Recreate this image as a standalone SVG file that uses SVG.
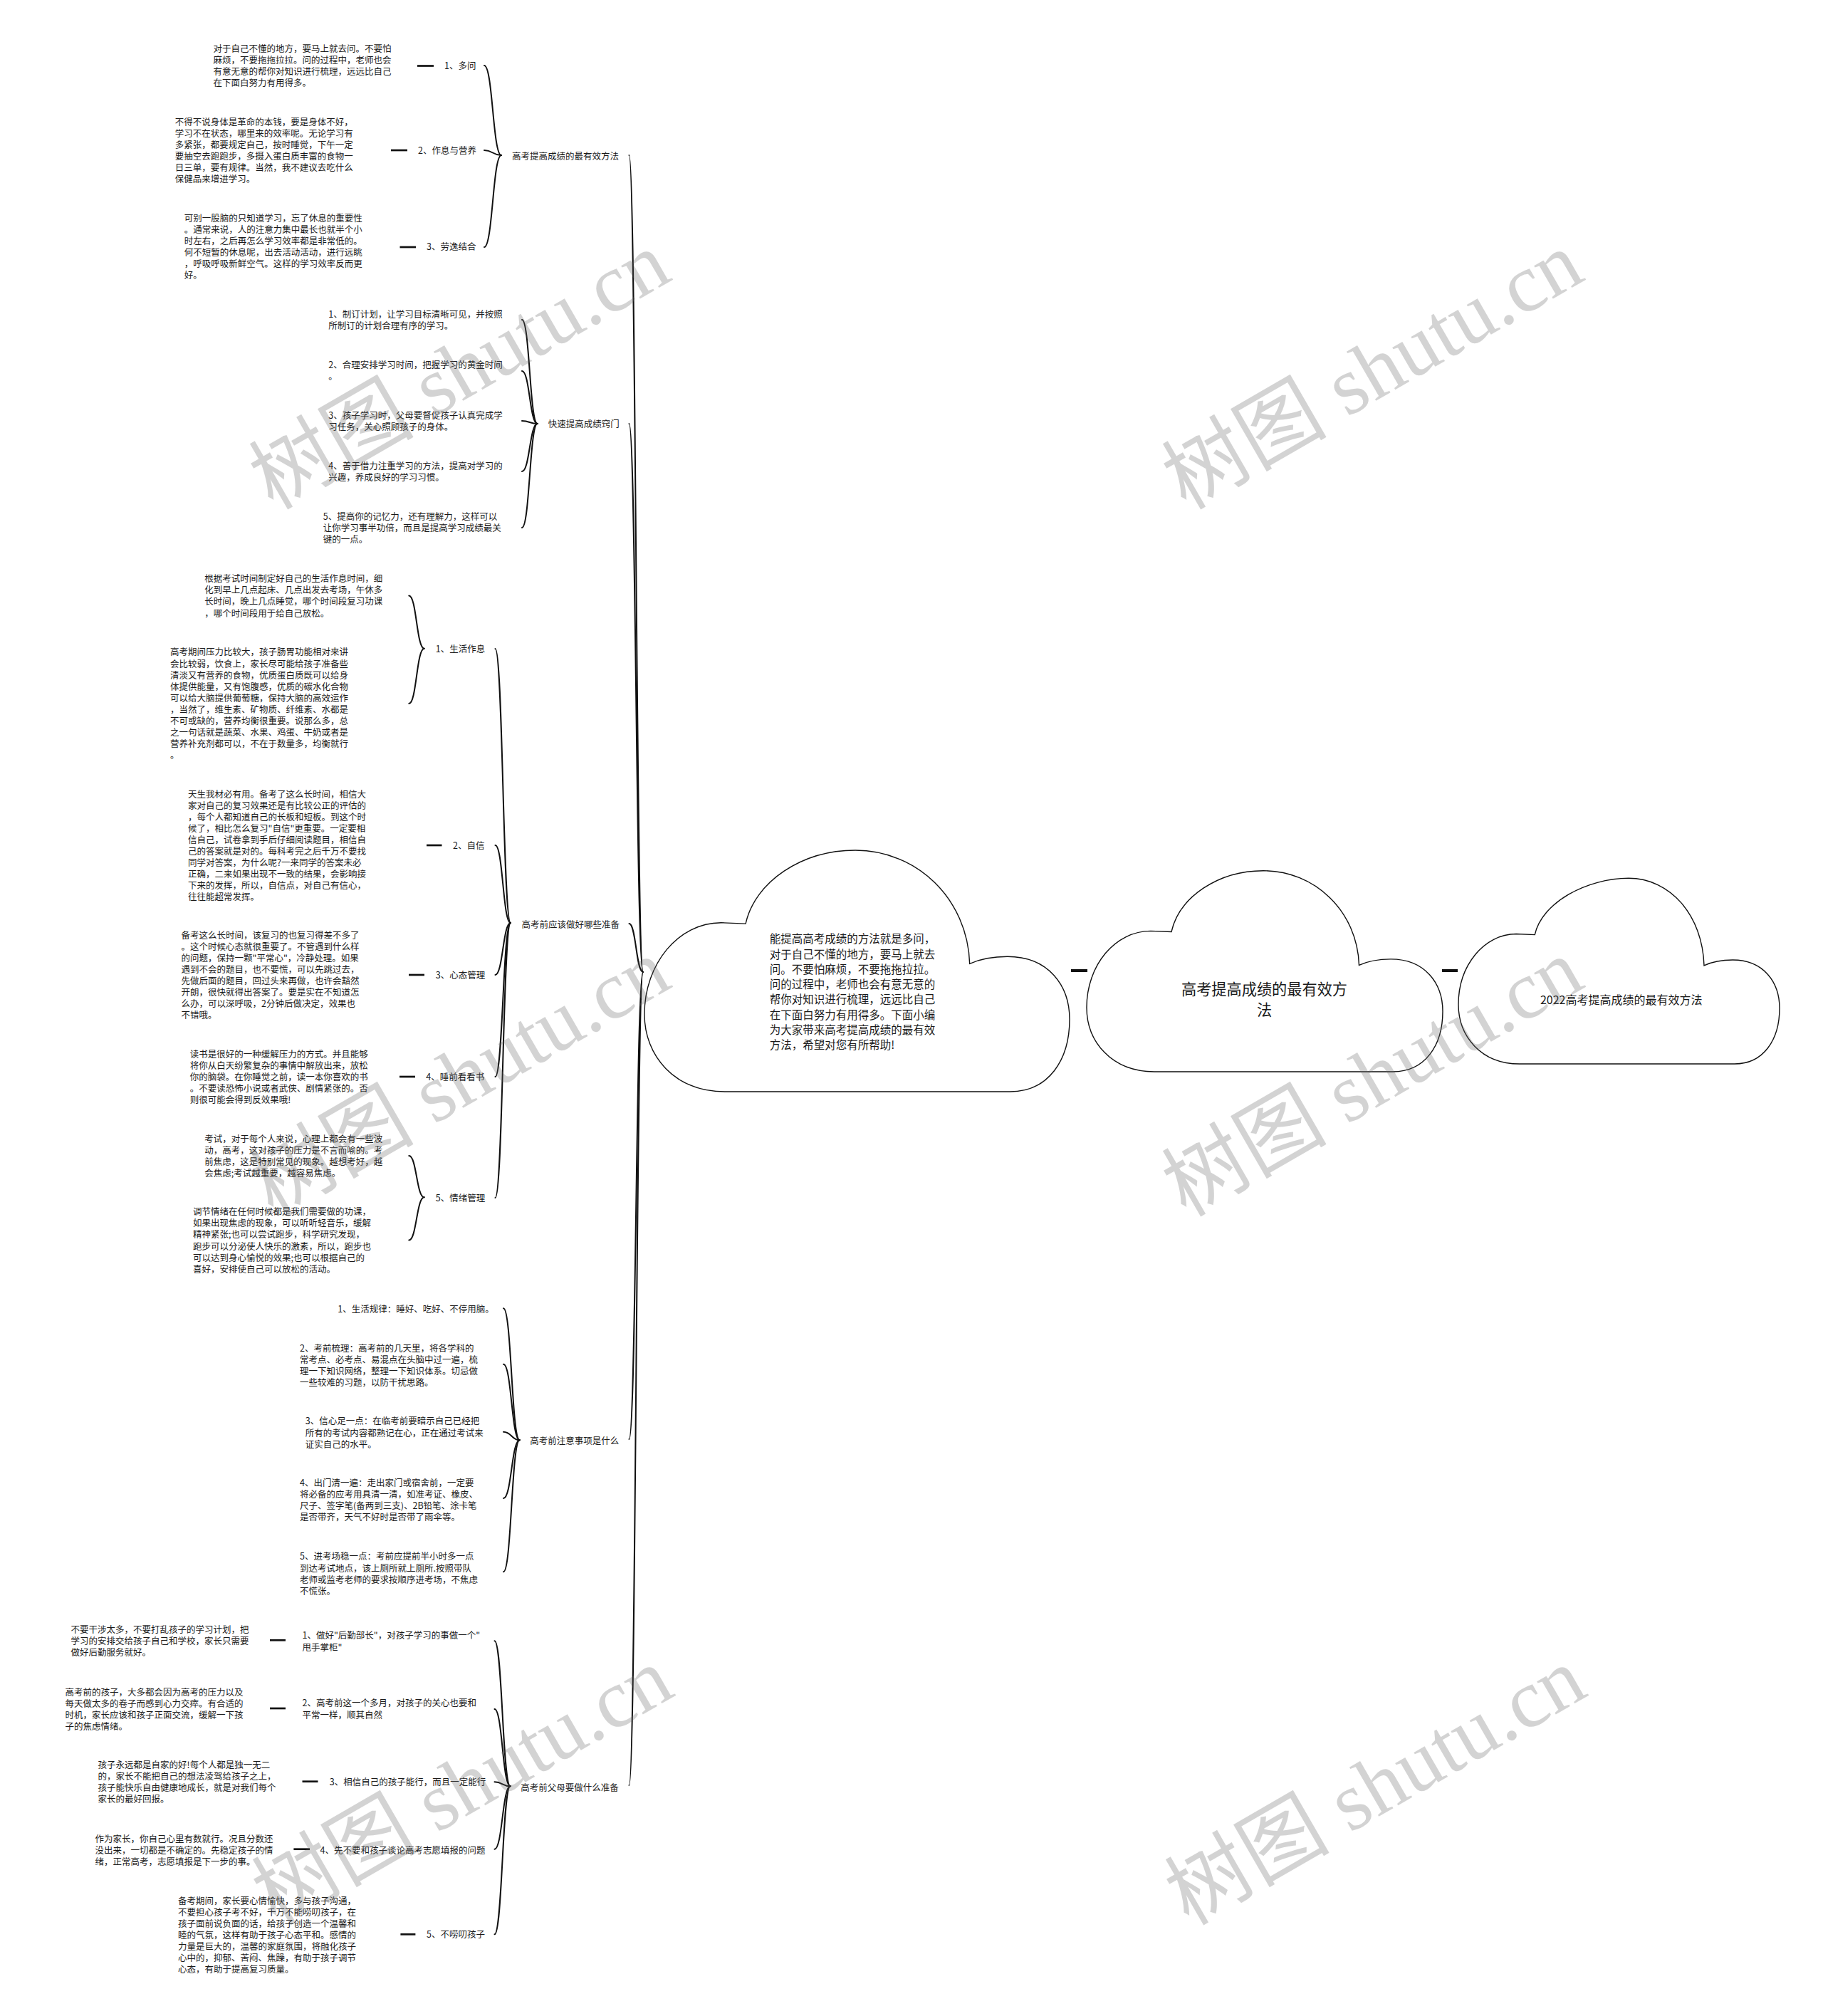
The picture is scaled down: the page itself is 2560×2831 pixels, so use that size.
<svg xmlns="http://www.w3.org/2000/svg" width="2560" height="2831" viewBox="0 0 2560 2831">
<style>
.t{font-family:"Noto Sans CJK SC","Noto Sans",sans-serif;font-size:12.5px;fill:#1a1a1a}
.c{fill:none;stroke:#111;stroke-width:2;stroke-linecap:round}
.d{stroke:#111;stroke-width:2.7}
.dd{stroke:#111;stroke-width:4}
.cloud{fill:#fff;stroke:#111;stroke-width:1.4}
.ct{font-family:"Noto Sans CJK SC","Noto Sans",sans-serif;fill:#1a1a1a}
.wm{font-family:"Liberation Serif","Noto Sans CJK SC",serif;font-size:116px;fill:#666;opacity:0.28}
</style>
<rect width="2560" height="2831" fill="#fff"/>

<g id="connectors">
<path class="c" d="M903 1365 C893.25 1365 893.25 218 883.5 218"/>
<path class="c" d="M903 1365 C893.25 1365 893.25 595 883.5 595"/>
<path class="c" d="M903 1365 C893.25 1365 893.25 1297 883.5 1297"/>
<path class="c" d="M903 1365 C893.25 1365 893.25 2021 883.5 2021"/>
<path class="c" d="M903 1365 C893.25 1365 893.25 2507 883.5 2507"/>
<path class="c" d="M704 218 C692 218 692 92 680 92"/>
<path class="c" d="M704 218 C692 218 692 211 680 211"/>
<path class="c" d="M704 218 C692 218 692 347 680 347"/>
<path class="c" d="M754.7 595 C743.85 595 743.85 449 733 449"/>
<path class="c" d="M754.7 595 C743.85 595 743.85 521 733 521"/>
<path class="c" d="M754.7 595 C743.85 595 743.85 591 733 591"/>
<path class="c" d="M754.7 595 C743.85 595 743.85 662 733 662"/>
<path class="c" d="M754.7 595 C743.85 595 743.85 741 733 741"/>
<path class="c" d="M717 1296 C706.25 1296 706.25 911 695.5 911"/>
<path class="c" d="M717 1296 C706.25 1296 706.25 1187 695.5 1187"/>
<path class="c" d="M717 1296 C706.25 1296 706.25 1369 695.5 1369"/>
<path class="c" d="M717 1296 C706.25 1296 706.25 1512 695.5 1512"/>
<path class="c" d="M717 1296 C706.25 1296 706.25 1682 695.5 1682"/>
<path class="c" d="M595.7 910.7 C585 910.7 585 836.5 574.3 836.5"/>
<path class="c" d="M595.7 910.7 C585 910.7 585 988 574.3 988"/>
<path class="c" d="M595.7 1681.3 C585 1681.3 585 1623 574.3 1623"/>
<path class="c" d="M595.7 1681.3 C585 1681.3 585 1741.5 574.3 1741.5"/>
<path class="c" d="M729.7 2022.3 C718.35 2022.3 718.35 1837.3 707 1837.3"/>
<path class="c" d="M729.7 2022.3 C718.35 2022.3 718.35 1915.7 707 1915.7"/>
<path class="c" d="M729.7 2022.3 C718.35 2022.3 718.35 2010.7 707 2010.7"/>
<path class="c" d="M729.7 2022.3 C718.35 2022.3 718.35 2104 707 2104"/>
<path class="c" d="M729.7 2022.3 C718.35 2022.3 718.35 2207.3 707 2207.3"/>
<path class="c" d="M716.6 2508.3 C705.55 2508.3 705.55 2304.3 694.5 2304.3"/>
<path class="c" d="M716.6 2508.3 C705.55 2508.3 705.55 2400 694.5 2400"/>
<path class="c" d="M716.6 2508.3 C705.55 2508.3 705.55 2502.3 694.5 2502.3"/>
<path class="c" d="M716.6 2508.3 C705.55 2508.3 705.55 2596.7 694.5 2596.7"/>
<path class="c" d="M716.6 2508.3 C705.55 2508.3 705.55 2716.3 694.5 2716.3"/>
<line class="d" x1="586" y1="92.5" x2="609" y2="92.5"/>
<line class="d" x1="549" y1="211" x2="572" y2="211"/>
<line class="d" x1="561.5" y1="347" x2="584" y2="347"/>
<line class="d" x1="599" y1="1187" x2="620.5" y2="1187"/>
<line class="d" x1="574" y1="1369" x2="596" y2="1369"/>
<line class="d" x1="561" y1="1512" x2="583" y2="1512"/>
<line class="d" x1="379" y1="2303.3" x2="401" y2="2303.3"/>
<line class="d" x1="379" y1="2399" x2="401" y2="2399"/>
<line class="d" x1="424.5" y1="2501.7" x2="446.5" y2="2501.7"/>
<line class="d" x1="412.4" y1="2596.7" x2="435" y2="2596.7"/>
<line class="d" x1="562.4" y1="2716.3" x2="583.4" y2="2716.3"/>
<line class="dd" x1="1504" y1="1363" x2="1527" y2="1363"/>
<line class="dd" x1="2025" y1="1363" x2="2047" y2="1363"/>
</g>

<g id="n-root">
<path class="cloud" d="M2133.7 1494 C2079.6 1494 2048 1454.9 2048 1410.6 C2048 1355.8 2084.1 1311.5 2129.2 1311.5 L2155.3 1312.6 C2165.3 1267.2 2228.4 1233.3 2287 1233.3 C2345.7 1233.3 2390.8 1285.4 2393 1355.8 C2404.3 1350.6 2417.8 1348 2433.2 1348 C2476.5 1348 2499 1379.3 2499 1415.8 C2499 1460.1 2476.5 1494 2435.9 1494 Z"/>
<text class="ct" x="2276.7" y="1410" font-size="16" text-anchor="middle">2022高考提高成绩的最有效方法</text>
</g>

<g id="n-title">
<path class="cloud" d="M1621 1505 C1561 1505 1526 1462.7 1526 1414.7 C1526 1355.4 1566 1307.4 1616 1307.4 L1645 1308.5 C1656 1259.4 1711 1222.7 1774 1222.7 C1846 1222.7 1906 1279.2 1908.5 1355.4 C1921 1349.7 1936 1346.9 1953 1346.9 C2001 1346.9 2026 1380.8 2026 1420.3 C2026 1468.3 2001 1505 1956 1505 Z"/>
<text class="ct" font-size="21.2" text-anchor="middle"><tspan x="1775.5" y="1397.3">高考提高成绩的最有效方</tspan><tspan x="1775.5" y="1426.3">法</tspan></text>
</g>

<g id="n-intro">
<path class="cloud" d="M1018.4 1533 C946.8 1533 905 1482.2 905 1424.5 C905 1353.3 952.8 1295.7 1012.5 1295.7 L1047.1 1297.1 C1060.2 1238.1 1125.9 1194 1201.1 1194 C1287.1 1194 1358.7 1261.8 1361.7 1353.3 C1376.6 1346.6 1394.5 1343.2 1414.8 1343.2 C1472.2 1343.2 1502 1383.8 1502 1431.3 C1502 1488.9 1472.2 1533 1418.4 1533 Z"/>
<text class="ct" font-size="15.5"><tspan x="1080.8" y="1324.2">能提高高考成绩的方法就是多问，</tspan><tspan x="1080.8" y="1345.5">对于自己不懂的地方，要马上就去</tspan><tspan x="1080.8" y="1366.8">问。不要怕麻烦，不要拖拖拉拉。</tspan><tspan x="1080.8" y="1388.1">问的过程中，老师也会有意无意的</tspan><tspan x="1080.8" y="1409.4">帮你对知识进行梳理，远远比自己</tspan><tspan x="1080.8" y="1430.7">在下面白努力有用得多。下面小编</tspan><tspan x="1080.8" y="1452">为大家带来高考提高成绩的最有效</tspan><tspan x="1080.8" y="1473.3">方法，希望对您有所帮助!</tspan></text>
</g>

<g id="n-b1"><text class="t" x="719" y="223.7">高考提高成绩的最有效方法</text></g>
<g id="n-b1-1"><text class="t" x="624" y="97.4">1、多问</text></g>
<g id="n-b1-1-t"><text class="t"><tspan x="299.6" y="73">对于自己不懂的地方，要马上就去问。不要怕</tspan><tspan x="299.6" y="89">麻烦，不要拖拖拉拉。问的过程中，老师也会</tspan><tspan x="299.6" y="105">有意无意的帮你对知识进行梳理，远远比自己</tspan><tspan x="299.6" y="121">在下面白努力有用得多。</tspan></text></g>
<g id="n-b1-2"><text class="t" x="587" y="215.7">2、作息与营养</text></g>
<g id="n-b1-2-t"><text class="t"><tspan x="245.8" y="176.4">不得不说身体是革命的本钱，要是身体不好，</tspan><tspan x="245.8" y="192.4">学习不在状态，哪里来的效率呢。无论学习有</tspan><tspan x="245.8" y="208.4">多紧张，都要规定自己，按时睡觉，下午一定</tspan><tspan x="245.8" y="224.4">要抽空去跑跑步，多摄入蛋白质丰富的食物一</tspan><tspan x="245.8" y="240.4">日三单，要有规律。当然，我不建议去吃什么</tspan><tspan x="245.8" y="256.4">保健品来增进学习。</tspan></text></g>
<g id="n-b1-3"><text class="t" x="599" y="351.4">3、劳逸结合</text></g>
<g id="n-b1-3-t"><text class="t"><tspan x="258.8" y="311.4">可别一股脑的只知道学习，忘了休息的重要性</tspan><tspan x="258.8" y="327.4">。通常来说，人的注意力集中最长也就半个小</tspan><tspan x="258.8" y="343.4">时左右，之后再怎么学习效率都是非常低的。</tspan><tspan x="258.8" y="359.4">何不短暂的休息呢，出去活动活动，进行远眺</tspan><tspan x="258.8" y="375.4">，呼吸呼吸新鲜空气。这样的学习效率反而更</tspan><tspan x="258.8" y="391.4">好。</tspan></text></g>

<g id="n-b2"><text class="t" x="769.7" y="599.7">快速提高成绩窍门</text></g>
<g id="n-b2-1"><text class="t"><tspan x="461.3" y="445.7">1、制订计划，让学习目标清晰可见，并按照</tspan><tspan x="461.3" y="461.9">所制订的计划合理有序的学习。</tspan></text></g>
<g id="n-b2-2"><text class="t"><tspan x="461.3" y="517">2、合理安排学习时间，把握学习的黄金时间</tspan><tspan x="461.3" y="533.2">。</tspan></text></g>
<g id="n-b2-3"><text class="t"><tspan x="461.3" y="588">3、孩子学习时，父母要督促孩子认真完成学</tspan><tspan x="461.3" y="604.2">习任务，关心照顾孩子的身体。</tspan></text></g>
<g id="n-b2-4"><text class="t"><tspan x="461.3" y="659">4、善于借力注重学习的方法，提高对学习的</tspan><tspan x="461.3" y="675.2">兴趣，养成良好的学习习惯。</tspan></text></g>
<g id="n-b2-5"><text class="t"><tspan x="453.7" y="729.7">5、提高你的记忆力，还有理解力，这样可以</tspan><tspan x="453.7" y="745.9">让你学习事半功倍，而且是提高学习成绩最关</tspan><tspan x="453.7" y="762.1">键的一点。</tspan></text></g>

<g id="n-b3"><text class="t" x="732.4" y="1302.7">高考前应该做好哪些准备</text></g>
<g id="n-b3-1"><text class="t" x="611.7" y="916">1、生活作息</text></g>
<g id="n-b3-1-a"><text class="t"><tspan x="287.3" y="817">根据考试时间制定好自己的生活作息时间，细</tspan><tspan x="287.3" y="833.2">化到早上几点起床、几点出发去考场，午休多</tspan><tspan x="287.3" y="849.4">长时间，晚上几点睡觉，哪个时间段复习功课</tspan><tspan x="287.3" y="865.6">，哪个时间段用于给自己放松。</tspan></text></g>
<g id="n-b3-1-b"><text class="t"><tspan x="239" y="920.4">高考期间压力比较大，孩子肠胃功能相对来讲</tspan><tspan x="239" y="936.5">会比较弱，饮食上，家长尽可能给孩子准备些</tspan><tspan x="239" y="952.6">清淡又有营养的食物，优质蛋白质既可以给身</tspan><tspan x="239" y="968.7">体提供能量，又有饱腹感，优质的碳水化合物</tspan><tspan x="239" y="984.8">可以给大脑提供葡萄糖，保持大脑的高效运作</tspan><tspan x="239" y="1000.9">，当然了，维生素、矿物质、纤维素、水都是</tspan><tspan x="239" y="1017">不可或缺的，营养均衡很重要。说那么多，总</tspan><tspan x="239" y="1033.1">之一句话就是蔬菜、水果、鸡蛋、牛奶或者是</tspan><tspan x="239" y="1049.2">营养补充剂都可以，不在于数量多，均衡就行</tspan><tspan x="239" y="1065.3">。</tspan></text></g>
<g id="n-b3-2"><text class="t" x="636" y="1191.7">2、自信</text></g>
<g id="n-b3-2-t"><text class="t"><tspan x="264" y="1120">天生我材必有用。备考了这么长时间，相信大</tspan><tspan x="264" y="1136">家对自己的复习效果还是有比较公正的评估的</tspan><tspan x="264" y="1152">，每个人都知道自己的长板和短板。到这个时</tspan><tspan x="264" y="1168">候了，相比怎么复习"自信"更重要。一定要相</tspan><tspan x="264" y="1184">信自己，试卷拿到手后仔细阅读题目，相信自</tspan><tspan x="264" y="1200">己的答案就是对的。每科考完之后千万不要找</tspan><tspan x="264" y="1216">同学对答案，为什么呢?一来同学的答案未必</tspan><tspan x="264" y="1232">正确，二来如果出现不一致的结果，会影响接</tspan><tspan x="264" y="1248">下来的发挥，所以，自信点，对自己有信心，</tspan><tspan x="264" y="1264">往往能超常发挥。</tspan></text></g>
<g id="n-b3-3"><text class="t" x="611.8" y="1373.7">3、心态管理</text></g>
<g id="n-b3-3-t"><text class="t"><tspan x="254.5" y="1317.7">备考这么长时间，该复习的也复习得差不多了</tspan><tspan x="254.5" y="1333.8">。这个时候心态就很重要了。不管遇到什么样</tspan><tspan x="254.5" y="1349.9">的问题，保持一颗"平常心"，冷静处理。如果</tspan><tspan x="254.5" y="1366">遇到不会的题目，也不要慌，可以先跳过去，</tspan><tspan x="254.5" y="1382.1">先做后面的题目，回过头来再做，也许会豁然</tspan><tspan x="254.5" y="1398.2">开朗，很快就得出答案了。要是实在不知道怎</tspan><tspan x="254.5" y="1414.3">么办，可以深呼吸，2分钟后做决定，效果也</tspan><tspan x="254.5" y="1430.4">不错哦。</tspan></text></g>
<g id="n-b3-4"><text class="t" x="598.3" y="1517">4、睡前看看书</text></g>
<g id="n-b3-4-t"><text class="t"><tspan x="266.7" y="1484.7">读书是很好的一种缓解压力的方式。并且能够</tspan><tspan x="266.7" y="1500.7">将你从白天纷繁复杂的事情中解放出来，放松</tspan><tspan x="266.7" y="1516.7">你的脑袋。在你睡觉之前，读一本你喜欢的书</tspan><tspan x="266.7" y="1532.7">。不要读恐怖小说或者武侠、剧情紧张的。否</tspan><tspan x="266.7" y="1548.7">则很可能会得到反效果哦!</tspan></text></g>
<g id="n-b3-5"><text class="t" x="611.7" y="1687">5、情绪管理</text></g>
<g id="n-b3-5-a"><text class="t"><tspan x="287.3" y="1603.7">考试，对于每个人来说，心理上都会有一些波</tspan><tspan x="287.3" y="1619.8">动，高考，这对孩子的压力是不言而喻的。考</tspan><tspan x="287.3" y="1635.9">前焦虑，这是特别常见的现象。越想考好，越</tspan><tspan x="287.3" y="1652">会焦虑;考试越重要，越容易焦虑。</tspan></text></g>
<g id="n-b3-5-b"><text class="t"><tspan x="271" y="1706">调节情绪在任何时候都是我们需要做的功课，</tspan><tspan x="271" y="1722.2">如果出现焦虑的现象，可以听听轻音乐，缓解</tspan><tspan x="271" y="1738.4">精神紧张;也可以尝试跑步，科学研究发现，</tspan><tspan x="271" y="1754.6">跑步可以分泌使人快乐的激素，所以，跑步也</tspan><tspan x="271" y="1770.8">可以达到身心愉悦的效果;也可以根据自己的</tspan><tspan x="271" y="1787">喜好，安排使自己可以放松的活动。</tspan></text></g>

<g id="n-b4"><text class="t" x="744.3" y="2028">高考前注意事项是什么</text></g>
<g id="n-b4-1"><text class="t" x="474.3" y="1842.7">1、生活规律：睡好、吃好、不停用脑。</text></g>
<g id="n-b4-2"><text class="t"><tspan x="421" y="1897.7">2、考前梳理：高考前的几天里，将各学科的</tspan><tspan x="421" y="1913.8">常考点、必考点、易混点在头脑中过一遍，梳</tspan><tspan x="421" y="1929.9">理一下知识网络，整理一下知识体系。切忌做</tspan><tspan x="421" y="1946">一些较难的习题，以防干扰思路。</tspan></text></g>
<g id="n-b4-3"><text class="t"><tspan x="428.7" y="2000.4">3、信心足一点：在临考前要暗示自己已经把</tspan><tspan x="428.7" y="2016.5">所有的考试内容都熟记在心，正在通过考试来</tspan><tspan x="428.7" y="2032.6">证实自己的水平。</tspan></text></g>
<g id="n-b4-4"><text class="t"><tspan x="421" y="2087">4、出门清一遍：走出家门或宿舍前，一定要</tspan><tspan x="421" y="2103.1">将必备的应考用具清一清，如准考证、橡皮、</tspan><tspan x="421" y="2119.2">尺子、签字笔(备两到三支)、2B铅笔、涂卡笔</tspan><tspan x="421" y="2135.3">是否带齐，天气不好时是否带了雨伞等。</tspan></text></g>
<g id="n-b4-5"><text class="t"><tspan x="421" y="2190.4">5、进考场稳一点：考前应提前半小时多一点</tspan><tspan x="421" y="2206.5">到达考试地点，该上厕所就上厕所.按照带队</tspan><tspan x="421" y="2222.6">老师或监考老师的要求按顺序进考场，不焦虑</tspan><tspan x="421" y="2238.7">不慌张。</tspan></text></g>

<g id="n-b5"><text class="t" x="731.2" y="2515.4">高考前父母要做什么准备</text></g>
<g id="n-b5-1"><text class="t"><tspan x="424.5" y="2301.4">1、做好"后勤部长"，对孩子学习的事做一个"</tspan><tspan x="424.5" y="2317.5">甩手掌柜"</tspan></text></g>
<g id="n-b5-1-t"><text class="t"><tspan x="99.4" y="2293">不要干涉太多，不要打乱孩子的学习计划，把</tspan><tspan x="99.4" y="2309.1">学习的安排交给孩子自己和学校，家长只需要</tspan><tspan x="99.4" y="2325.2">做好后勤服务就好。</tspan></text></g>
<g id="n-b5-2"><text class="t"><tspan x="424.5" y="2396.4">2、高考前这一个多月，对孩子的关心也要和</tspan><tspan x="424.5" y="2412.5">平常一样，顺其自然</tspan></text></g>
<g id="n-b5-2-t"><text class="t"><tspan x="91.5" y="2380.7">高考前的孩子，大多都会因为高考的压力以及</tspan><tspan x="91.5" y="2396.8">每天做太多的卷子而感到心力交瘁。有合适的</tspan><tspan x="91.5" y="2412.9">时机，家长应该和孩子正面交流，缓解一下孩</tspan><tspan x="91.5" y="2429">子的焦虑情绪。</tspan></text></g>
<g id="n-b5-3"><text class="t" x="462.7" y="2507.4">3、相信自己的孩子能行，而且一定能行</text></g>
<g id="n-b5-3-t"><text class="t"><tspan x="137.6" y="2483">孩子永远都是自家的好!每个人都是独一无二</tspan><tspan x="137.6" y="2499.1">的，家长不能把自己的想法凌驾给孩子之上，</tspan><tspan x="137.6" y="2515.2">孩子能快乐自由健康地成长，就是对我们每个</tspan><tspan x="137.6" y="2531.3">家长的最好回报。</tspan></text></g>
<g id="n-b5-4"><text class="t" x="449.6" y="2602.7">4、先不要和孩子谈论高考志愿填报的问题</text></g>
<g id="n-b5-4-t"><text class="t"><tspan x="133.4" y="2587">作为家长，你自己心里有数就行。况且分数还</tspan><tspan x="133.4" y="2603.1">没出来，一切都是不确定的。先稳定孩子的情</tspan><tspan x="133.4" y="2619.2">绪，正常高考，志愿填报是下一步的事。</tspan></text></g>
<g id="n-b5-5"><text class="t" x="599" y="2721.4">5、不唠叨孩子</text></g>
<g id="n-b5-5-t"><text class="t"><tspan x="249.9" y="2673.7">备考期间，家长要心情愉快，多与孩子沟通，</tspan><tspan x="249.9" y="2689.7">不要担心孩子考不好，千万不能唠叨孩子，在</tspan><tspan x="249.9" y="2705.7">孩子面前说负面的话，给孩子创造一个温馨和</tspan><tspan x="249.9" y="2721.7">睦的气氛，这样有助于孩子心态平和。感情的</tspan><tspan x="249.9" y="2737.7">力量是巨大的，温馨的家庭氛围，将融化孩子</tspan><tspan x="249.9" y="2753.7">心中的，抑郁、苦闷、焦躁，有助于孩子调节</tspan><tspan x="249.9" y="2769.7">心态，有助于提高复习质量。</tspan></text></g>

<g id="watermarks">
<text class="wm" transform="translate(644 518) rotate(-30)" x="0" y="42" text-anchor="middle">树图 shutu.cn</text>
<text class="wm" transform="translate(1926 518) rotate(-30)" x="0" y="42" text-anchor="middle">树图 shutu.cn</text>
<text class="wm" transform="translate(644 1511) rotate(-30)" x="0" y="42" text-anchor="middle">树图 shutu.cn</text>
<text class="wm" transform="translate(1926 1511) rotate(-30)" x="0" y="42" text-anchor="middle">树图 shutu.cn</text>
<text class="wm" transform="translate(648 2506) rotate(-30)" x="0" y="42" text-anchor="middle">树图 shutu.cn</text>
<text class="wm" transform="translate(1930 2506) rotate(-30)" x="0" y="42" text-anchor="middle">树图 shutu.cn</text>
</g>
</svg>
